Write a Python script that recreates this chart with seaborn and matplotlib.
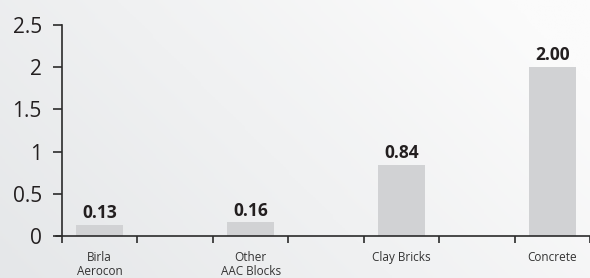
import numpy as np
import pandas as pd
import seaborn as sns
import matplotlib
import matplotlib.pyplot as plt
from matplotlib.colors import LinearSegmentedColormap

matplotlib.use("Agg")

# ─── data ─────────────────────────────────────────────────────────
MATERIALS = ["Birla\nAerocon", "Other\nAAC Blocks", "Clay Bricks", "Concrete"]
VALUES    = [0.13, 0.16, 0.84, 2.00]
VALUE_LABELS = ["0.13", "0.16", "0.84", "2.00"]
Y_TICKS   = [0, 0.5, 1, 1.5, 2, 2.5]
Y_TICK_LABELS = ["0", "0.5", "1", "1.5", "2", "2.5"]

df = pd.DataFrame({"material": MATERIALS, "value": VALUES})

# ─── style ────────────────────────────────────────────────────────
sns.set_style("white", {"xtick.bottom": True, "ytick.left": True})
plt.rcParams["font.family"] = ["Open Sans", "DejaVu Sans"]
BAR_COLOR  = "#d1d2d4"
TEXT_COLOR = "#231f20"
AXIS_COLOR = "#2b2b2b"

fig = plt.figure(figsize=(5.9, 2.78), dpi=100)

# soft grey-to-white background
bg = fig.add_axes([0, 0, 1, 1], zorder=-2)
gx, gy = np.meshgrid(np.linspace(0, 1, 200), np.linspace(0, 1, 100))
grad = np.clip(1 - (0.75 * gx + 0.35 * (1 - gy)), 0, 1)
cmap = LinearSegmentedColormap.from_list("bg", ["#fbfbfb", "#e5e7e9"])
bg.imshow(grad, cmap=cmap, aspect="auto", extent=[0, 1, 0, 1], origin="upper")
bg.axis("off")

ax = fig.add_axes([62 / 590, 42 / 278, 1 - 62 / 590, 211 / 278])
ax.patch.set_alpha(0)

sns.barplot(data=df, x="material", y="value", color=BAR_COLOR,
            width=0.31, saturation=1, linewidth=0, edgecolor="none", ax=ax)

for i, (v, lab) in enumerate(zip(VALUES, VALUE_LABELS)):
    ax.text(i, v + 0.035, lab, ha="center", va="bottom", fontsize=12.5,
            fontweight="bold", color=TEXT_COLOR)

ax.set_xlim(-0.25, 3.22)
ax.set_ylim(0, 2.5)
ax.set_yticks(Y_TICKS)
ax.set_yticklabels(Y_TICK_LABELS)
ax.set_xlabel("")
ax.set_ylabel("")

for side in ["top", "right"]:
    ax.spines[side].set_visible(False)
for side in ["left", "bottom"]:
    ax.spines[side].set_color(AXIS_COLOR)
    ax.spines[side].set_linewidth(1.2)
# short stub of the baseline to the left of the value axis
ax.axhline(0, xmin=-0.012, xmax=0, color=AXIS_COLOR, lw=1.2, clip_on=False)

# category labels on major ticks (no marks), tick marks on minor ticks
ax.set_xticks(range(len(MATERIALS)))
ax.set_xticklabels(MATERIALS, fontsize=8.5, color="#333333", linespacing=1.1)
ax.set_xticks(np.arange(-0.25, 3.3, 0.5), minor=True)
ax.tick_params(axis="x", which="major", length=0, pad=11)
ax.tick_params(axis="x", which="minor", bottom=True, length=5, width=1.2,
               color=AXIS_COLOR, direction="out")
ax.tick_params(axis="y", which="major", left=True, length=6.5, width=1.2,
               color=AXIS_COLOR, direction="out", pad=8,
               labelsize=15, labelcolor=TEXT_COLOR)

fig.savefig("out.png", dpi=100)
plt.close(fig)
